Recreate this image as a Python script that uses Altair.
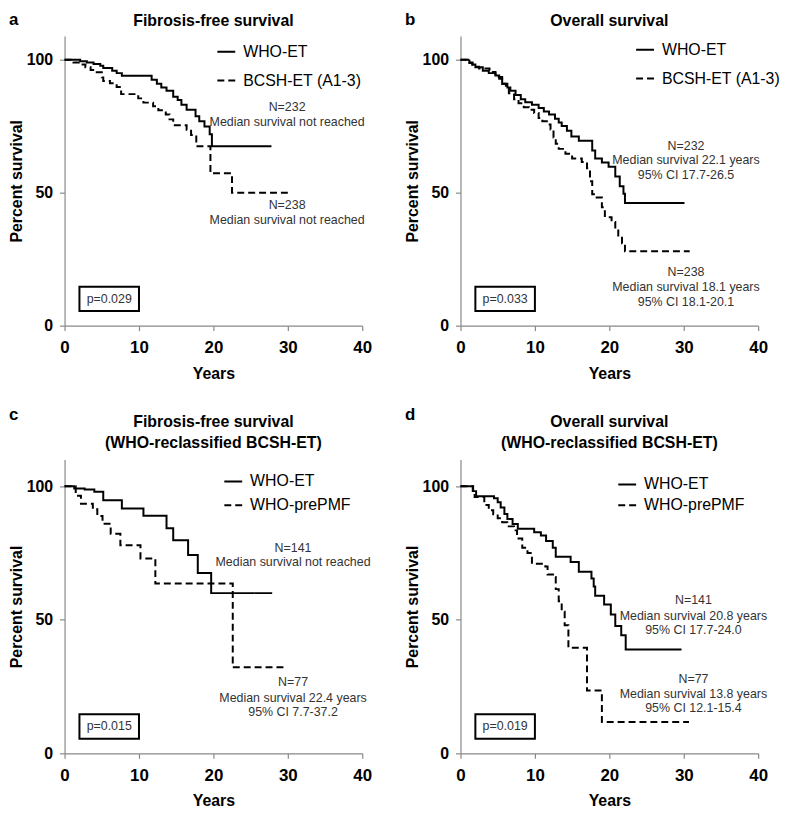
import altair as alt
import pandas as pd

FONT = "Liberation Sans"

# ---------------- Panel a: Fibrosis-free survival ----------------
a_groups = ["WHO-ET", "BCSH-ET (A1-3)"]
a_who_t = [0, 2.1, 3.0, 3.9, 4.8, 5.2, 6.4, 7.0, 7.7, 11.7, 12.4, 13.0, 13.7, 14.6, 15.2, 15.7,
           16.4, 17.6, 18.1, 18.8, 19.5, 19.8, 27.8]
a_who_s = [100, 99.5, 99, 98.4, 97.8, 96.9, 95.9, 95, 94, 92.5, 91, 89.6, 88.4, 86.1, 84.9, 83.1,
           81.2, 78.8, 76.9, 74.9, 72, 67.5, 67.5]
a_bcsh_t = [0, 1.2, 1.9, 2.8, 3.5, 4.1, 5.0, 5.2, 6.1, 7.0, 7.6, 9.9, 10.6, 11.9, 12.6, 13.6, 14.1,
            14.6, 16.4, 17.0, 17.7, 19.6, 22.5, 30.0]
a_bcsh_s = [100, 99, 98.2, 97.2, 96.2, 95.3, 93.4, 92, 91.2, 89.8, 87.1, 85.5, 83.9, 82.5, 81, 79.4,
            77.6, 75.4, 73.7, 71.7, 67.5, 57.3, 50, 50]
a_note_text = ["N=232", "Median survival not reached", "N=238", "Median survival not reached"]
a_note_y = [82.1, 76.6, 45.3, 39.8]
a_note_x = 29.9
a_p = "p=0.029"

# ---------------- Panel b: Overall survival ----------------
b_groups = ["WHO-ET", "BCSH-ET (A1-3)"]
b_who_t = [0, 1.2, 1.6, 2.0, 3.0, 3.8, 4.7, 5.2, 5.6, 6.3, 6.7, 7.4, 8.1, 8.7, 9.6, 10.5, 11.2, 11.9,
           12.7, 13.2, 13.6, 14.3, 14.9, 15.9, 17.7, 18.1, 19.0, 19.9, 20.8, 21.4, 21.9, 22.1, 30.1]
b_who_s = [100, 99, 98.2, 97.2, 95.9, 95, 94.1, 92.9, 91, 89.6, 88.4, 86.8, 85.2, 84, 83.1, 81.9,
           80.6, 79.4, 77.8, 76.4, 75.1, 73.3, 71.2, 69.6, 65.9, 62.9, 61.4, 59.8, 56.1, 52.4, 49.6,
           46.1, 46.1]
b_bcsh_t = [0, 1.2, 1.6, 2.5, 3.9, 4.7, 5.6, 6.1, 6.5, 7.2, 7.8, 8.5, 9.2, 9.9, 10.5, 11.0, 11.6,
            12.1, 12.5, 12.8, 13.2, 14.1, 15.0, 16.3, 17.0, 17.4, 17.7, 18.1, 19.0, 19.4, 20.3, 20.8,
            21.2, 21.7, 22.1, 30.8]
b_bcsh_s = [100, 98.8, 97.4, 96.7, 95.4, 93.5, 91, 89.2, 87.4, 85.2, 83.7, 82.2, 81.2, 80, 78.1,
            76.9, 75.7, 73.8, 70.8, 68.4, 66.5, 64.7, 62.9, 61.6, 59.2, 54.3, 49.4, 48.2, 44.5, 40.8,
            39, 36.5, 33.5, 31, 28, 28]
b_note_text = ["N=232", "Median survival 22.1 years", "95% CI 17.7-26.5",
               "N=238", "Median survival 18.1 years", "95% CI 18.1-20.1"]
b_note_y = [67.7, 62.2, 56.7, 20.2, 14.7, 8.9]
b_note_x = 30.3
b_p = "p=0.033"

# ---------------- Panel c: Fibrosis-free survival (reclassified) ----------------
c_groups = ["WHO-ET", "WHO-prePMF"]
c_who_t = [0, 1.3, 2.7, 4.0, 5.2, 7.7, 10.6, 13.7, 14.6, 16.6, 17.9, 19.7, 27.9]
c_who_s = [100, 99.2, 98.8, 98, 94.8, 91.7, 89, 84.3, 79.8, 74.3, 67.5, 60, 60]
c_pmf_t = [0, 1.5, 2.2, 3.8, 4.4, 5.1, 6.2, 7.5, 10.2, 12.2, 22.6, 29.7]
c_pmf_s = [100, 96.5, 93.5, 91.4, 88.9, 86, 82.2, 77.9, 73, 63.6, 32.2, 32.2]
c_note_text = ["N=141", "Median survival not reached",
               "N=77", "Median survival 22.4 years", "95% CI 7.7-37.2"]
c_note_y = [77.0, 71.8, 26.8, 20.6, 15.3]
c_note_x = 30.7
c_p = "p=0.015"

# ---------------- Panel d: Overall survival (reclassified) ----------------
d_groups = ["WHO-ET", "WHO-prePMF"]
d_who_t = [0, 1.65, 2.1, 4.5, 5.0, 5.4, 5.9, 6.3, 7.0, 7.7, 9.9, 10.8, 11.5, 12.4, 12.8, 14.8, 15.9,
           17.6, 17.9, 18.1, 19.3, 20.2, 20.8, 21.6, 22.2, 29.7]
d_who_s = [100, 98.2, 96.3, 95.5, 94, 92.1, 89.6, 87.8, 85.9, 84.1, 82.8, 81.6, 79.5, 77, 73.6,
           71.7, 68, 65.5, 62.5, 59, 55.7, 52, 47.7, 44.2, 38.9, 38.9]
d_pmf_t = [0, 1.7, 1.9, 3.2, 3.8, 4.4, 5.0, 5.6, 6.3, 7.2, 7.6, 8.3, 9.0, 9.6, 11.4, 11.7, 12.6,
           12.8, 13.2, 13.6, 14.0, 14.5, 17.0, 19.0, 30.7]
d_pmf_s = [100, 98, 96, 93, 91, 89.5, 88, 86.5, 85, 83.5, 80.5, 77, 75, 71, 70, 67, 66, 61.5, 57,
           53, 48, 39.5, 23.5, 11.7, 11.7]
d_note_text = ["N=141", "Median survival 20.8 years", "95% CI 17.7-24.0",
               "N=77", "Median survival 13.8 years", "95% CI 12.1-15.4"]
d_note_y = [57.4, 51.5, 46.0, 28.0, 22.3, 16.8]
d_note_x = 31.3
d_p = "p=0.019"

# p-value box extent (years, percent)
box_t = [2.0]
box_t2 = [10.0]
box_s = [5.5]
box_s2 = [14.6]


def panel(label, title, groups, t1, s1, t2, s2, note_text, note_y, note_x, ptext,
          ymax, height, leg_x, leg_y, row_pad):
    curves = pd.concat([
        pd.DataFrame({"t": t1, "s": s1, "group": groups[0]}),
        pd.DataFrame({"t": t2, "s": s2, "group": groups[1]}),
    ])
    x_enc = alt.X("t:Q", scale=alt.Scale(domain=[0, 40], nice=False),
                  axis=alt.Axis(values=[0, 10, 20, 30, 40], title="Years",
                                labelFlush=False, labelPadding=9, titlePadding=10,
                                labelFontSize=17))
    y_enc = alt.Y("s:Q", scale=alt.Scale(domain=[0, ymax], nice=False),
                  axis=alt.Axis(values=[0, 50, 100], title="Percent survival",
                                labelPadding=7, titlePadding=2, labelFontSize=16))

    lines = alt.Chart(curves).mark_line(
        interpolate="step-after", color="black", strokeWidth=2
    ).encode(
        x=x_enc, y=y_enc,
        strokeDash=alt.StrokeDash(
            "group:N",
            scale=alt.Scale(domain=groups, range=[[1, 0], [7, 4]]),
            legend=alt.Legend(orient="none", legendX=leg_x, legendY=leg_y, title=None,
                              symbolType="stroke", symbolSize=324, symbolStrokeWidth=2,
                              symbolStrokeColor="black", labelFont=FONT, labelFontSize=16,
                              labelColor="black", labelOffset=7, rowPadding=row_pad,
                              padding=0, labelLimit=300),
        ),
        order="t:Q",
    )

    notes = alt.Chart(pd.DataFrame({"t": [note_x] * len(note_text), "s": note_y,
                                    "txt": note_text})).mark_text(
        font=FONT, fontSize=12.5, color="#333333", align="center", baseline="middle"
    ).encode(x=x_enc, y=y_enc, text="txt:N")

    box_df = pd.DataFrame({"t": box_t, "t2": box_t2, "s": box_s, "s2": box_s2})
    box = alt.Chart(box_df).mark_rect(fill="white", stroke="black", strokeWidth=2).encode(
        x=x_enc, x2="t2:Q", y=y_enc, y2="s2:Q")
    pdf = pd.DataFrame({"t": [(box_t[0] + box_t2[0]) / 2], "s": [(box_s[0] + box_s2[0]) / 2],
                        "txt": [ptext]})
    ptxt = alt.Chart(pdf).mark_text(
        font=FONT, fontSize=12.5, color="#333333", align="center", baseline="middle"
    ).encode(x=x_enc, y=y_enc, text="txt:N")

    two = len(title) == 2
    lab = alt.Chart(pd.DataFrame({"lab": [label]})).mark_text(
        font=FONT, fontSize=17, fontWeight="bold", color="black", align="left",
        baseline="alphabetic"
    ).encode(x=alt.value(-56), y=alt.value(-40 if two else -11), text="lab:N")

    title_y = [-33, -12] if two else [-10]
    heads = []
    for line, yy in zip(title, title_y):
        heads.append(alt.Chart(pd.DataFrame({"h": [line]})).mark_text(
            font=FONT, fontSize=16, fontWeight="bold", color="black", align="center",
            baseline="alphabetic"
        ).encode(x=alt.value(150), y=alt.value(yy), text="h:N"))

    return alt.layer(box, lines, notes, ptxt, lab, *heads).properties(width=300, height=height)


pa = panel("a", ["Fibrosis-free survival"], a_groups, a_who_t, a_who_s, a_bcsh_t, a_bcsh_s,
           a_note_text, a_note_y, a_note_x, a_p, 109, 292, 153, 6, 11)
pb = panel("b", ["Overall survival"], b_groups, b_who_t, b_who_s, b_bcsh_t, b_bcsh_s,
           b_note_text, b_note_y, b_note_x, b_p, 109, 292, 176, 4, 11)
pc = panel("c", ["Fibrosis-free survival", "(WHO-reclassified BCSH-ET)"], c_groups,
           c_who_t, c_who_s, c_pmf_t, c_pmf_s, c_note_text, c_note_y, c_note_x, c_p,
           110, 296, 160, 12, 6)
pd_ = panel("d", ["Overall survival", "(WHO-reclassified BCSH-ET)"], d_groups,
            d_who_t, d_who_s, d_pmf_t, d_pmf_s, d_note_text, d_note_y, d_note_x, d_p,
            110, 296, 158, 15, 3)

chart = alt.concat(pa, pb, pc, pd_, columns=2, align="each",
                   spacing={"row": 25, "column": 32}).resolve_scale(
    strokeDash="independent"
).resolve_legend(strokeDash="independent").configure_view(stroke=None).configure_axis(
    grid=False, domainColor="#888888", tickColor="#888888", domainWidth=1.2, tickWidth=1.2,
    tickSize=5, labelFont=FONT, titleFont=FONT, labelFontWeight="bold", titleFontWeight="bold",
    titleFontSize=16, labelColor="black", titleColor="black"
).properties(padding=0, background="white")

chart.save("out.html", embed_options={"renderer": "svg", "actions": False})
